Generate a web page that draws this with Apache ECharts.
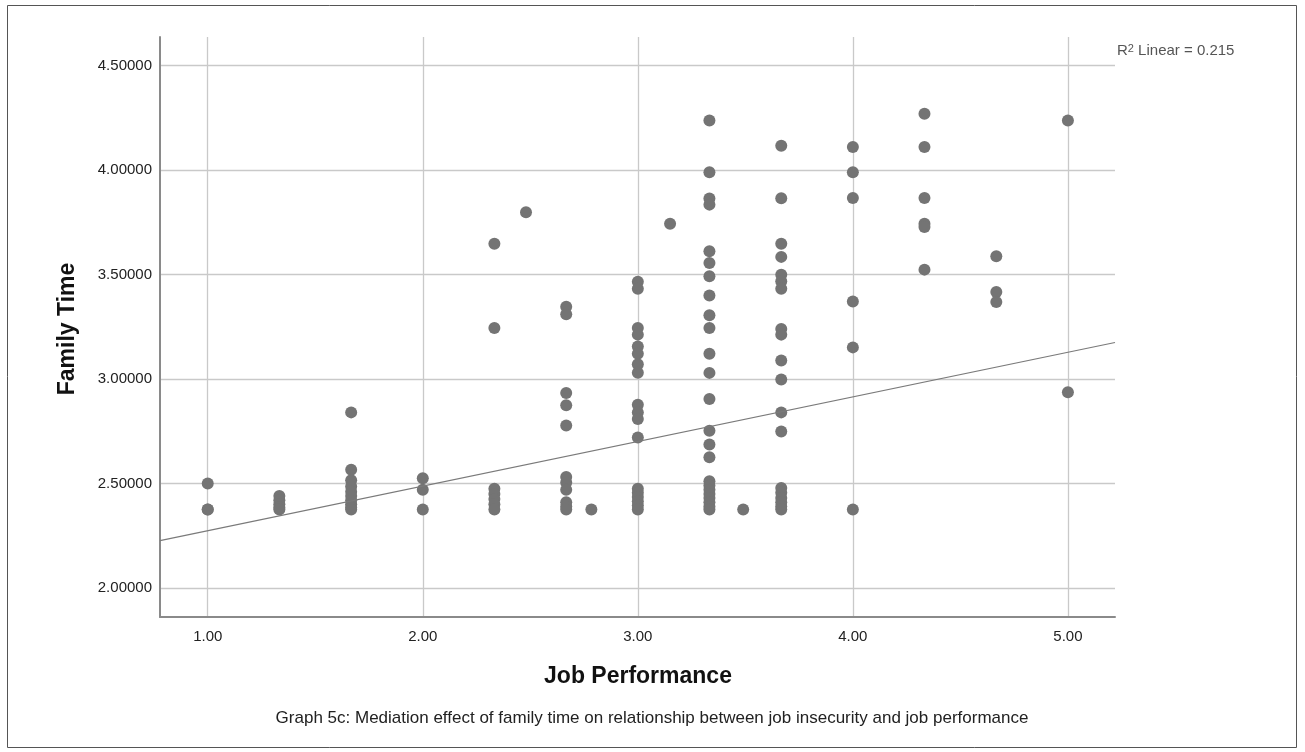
<!DOCTYPE html>
<html>
<head>
<meta charset="utf-8">
<script src="https://cdn.jsdelivr.net/npm/echarts@6/dist/echarts.min.js"></script>
<style>
html,body{margin:0;padding:0;background:#fff;}
#chart{width:1305px;height:752px;}
</style>
</head>
<body>
<div id="chart"></div>
<script>
// ---- Data ----
const jobPerformanceLevels = [1.00, 1.333, 1.667, 2.00, 2.333, 2.48, 2.667, 2.784, 3.00, 3.15, 3.333, 3.49, 3.667, 4.00, 4.333, 4.667, 5.00];
const familyTimeByLevel = [
  [2.50, 2.375, 2.375],
  [2.44, 2.42, 2.40, 2.385, 2.375],
  [2.84, 2.565, 2.515, 2.485, 2.46, 2.44, 2.42, 2.40, 2.385, 2.375],
  [2.525, 2.47, 2.375],
  [3.647, 3.244, 2.475, 2.45, 2.425, 2.40, 2.375],
  [3.797],
  [3.345, 3.31, 2.933, 2.874, 2.777, 2.531, 2.505, 2.47, 2.41, 2.39, 2.375],
  [2.375],
  [3.465, 3.431, 3.244, 3.212, 3.155, 3.121, 3.070, 3.030, 2.876, 2.840, 2.808, 2.720, 2.475, 2.455, 2.435, 2.415, 2.395, 2.375],
  [3.742],
  [4.237, 3.989, 3.863, 3.834, 3.611, 3.555, 3.491, 3.399, 3.305, 3.244, 3.121, 3.029, 2.904, 2.752, 2.686, 2.625, 2.51, 2.49, 2.47, 2.45, 2.43, 2.41, 2.39, 2.375],
  [2.375],
  [4.116, 3.864, 3.647, 3.584, 3.499, 3.467, 3.431, 3.239, 3.212, 3.088, 2.997, 2.840, 2.749, 2.478, 2.455, 2.43, 2.41, 2.39, 2.375],
  [4.110, 3.989, 3.866, 3.37, 3.151, 2.375],
  [4.269, 4.110, 3.866, 3.743, 3.727, 3.523],
  [3.587, 3.416, 3.368],
  [4.237, 2.936]
];
const xTickValues = [1, 2, 3, 4, 5];
const yTickValues = [2.0, 2.5, 3.0, 3.5, 4.0, 4.5];
const xRange = [0.778, 5.219];
const yRange = [1.861, 4.636];
const fitIntercept = 2.060;
const fitSlope = 0.2135;
const r2Text = '0.215';
const xTitle = 'Job Performance';
const yTitle = 'Family Time';
const captionText = 'Graph 5c: Mediation effect of family time on relationship between job insecurity and job performance';

// ---- Build series data ----
const points = [];
jobPerformanceLevels.forEach((x, i) => {
  familyTimeByLevel[i].forEach(y => points.push([x, y]));
});
const fitData = xRange.map(x => [x, fitIntercept + fitSlope * x]);

const FONT = "'Liberation Sans', Arial, sans-serif";
const chart = echarts.init(document.getElementById('chart'), null, {renderer: 'canvas'});
chart.setOption({
  backgroundColor: '#ffffff',
  animation: false,
  grid: {left: 160, right: 190, top: 37, bottom: 135, containLabel: false},
  xAxis: {
    type: 'value', min: xRange[0], max: xRange[1],
    axisLine: {show: true, onZero: false, lineStyle: {color: '#8a8a8a', width: 2}},
    axisTick: {show: false, customValues: xTickValues},
    axisLabel: {customValues: xTickValues, formatter: v => v.toFixed(2), color: '#222', fontFamily: FONT, fontSize: 15, margin: 12},
    splitLine: {show: true, lineStyle: {color: '#c9c9c9', width: 1.3}}
  },
  yAxis: {
    type: 'value', min: yRange[0], max: yRange[1],
    axisLine: {show: true, onZero: false, lineStyle: {color: '#8a8a8a', width: 2}},
    axisTick: {show: false, customValues: yTickValues},
    axisLabel: {customValues: yTickValues, formatter: v => v.toFixed(5), color: '#222', fontFamily: FONT, fontSize: 15, margin: 8},
    splitLine: {show: true, lineStyle: {color: '#c9c9c9', width: 1.3}}
  },
  series: [
    {
      type: 'scatter', data: points, symbol: 'circle', symbolSize: 12,
      itemStyle: {color: '#747474', opacity: 1}, z: 3
    },
    {
      type: 'line', data: fitData, symbol: 'none', silent: true,
      lineStyle: {color: '#7a7a7a', width: 1.2}, z: 4
    }
  ],
  graphic: [
    {type: 'rect', shape: {x: 7.5, y: 5.5, width: 1289, height: 742}, style: {fill: 'none', stroke: '#555', lineWidth: 1}, silent: true},
    {type: 'text', x: 68, y: 329, rotation: Math.PI / 2,
     style: {text: yTitle, font: "bold 23px 'Liberation Sans', Arial, sans-serif", fill: '#111', textAlign: 'center', textVerticalAlign: 'middle'}},
    {type: 'text', x: 638, y: 677,
     style: {text: xTitle, font: "bold 23px 'Liberation Sans', Arial, sans-serif", fill: '#111', textAlign: 'center', textVerticalAlign: 'middle'}},
    {type: 'text', x: 652, y: 718,
     style: {text: captionText, font: "17px 'Liberation Sans', Arial, sans-serif", fill: '#222', textAlign: 'center', textVerticalAlign: 'middle'}},
    {type: 'text', x: 1117, y: 51,
     style: {
       text: '{r|R}{s|2}{r| Linear = ' + r2Text + '}',
       textVerticalAlign: 'middle',
       rich: {
         r: {font: "15px 'Liberation Sans', Arial, sans-serif", fill: '#555', verticalAlign: 'bottom'},
         s: {font: "11px 'Liberation Sans', Arial, sans-serif", fill: '#555', verticalAlign: 'top'}
       }
     }}
  ]
});
</script>
</body>
</html>
